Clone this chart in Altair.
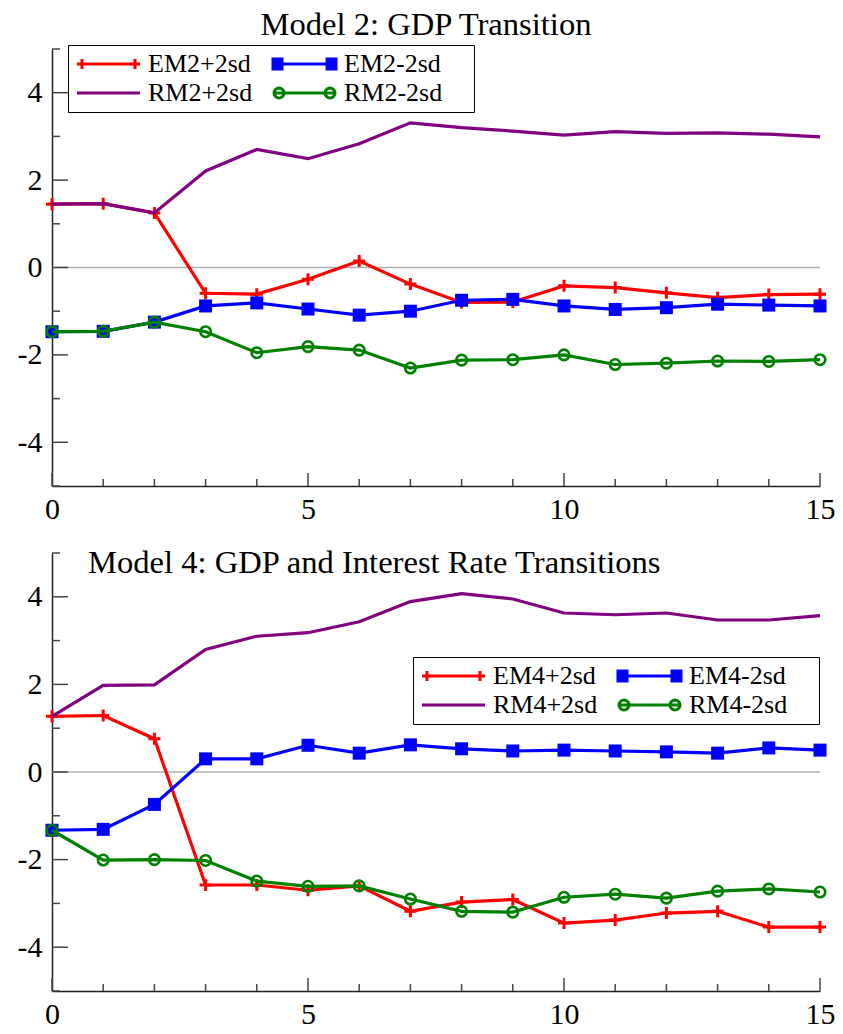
import math
import altair as alt
import pandas as pd

steps = list(range(16))

# Model 2
series2 = ["EM2+2sd", "EM2-2sd", "RM2+2sd", "RM2-2sd"]
em2_plus = [1.45, 1.46, 1.25, -0.59, -0.61, -0.27, 0.15, -0.38, -0.80, -0.79, -0.42, -0.46, -0.58, -0.69, -0.62, -0.61]
em2_minus = [-1.47, -1.46, -1.25, -0.88, -0.81, -0.95, -1.09, -1.00, -0.75, -0.73, -0.88, -0.96, -0.92, -0.84, -0.86, -0.88]
rm2_plus = [1.45, 1.46, 1.25, 2.21, 2.70, 2.49, 2.83, 3.31, 3.20, 3.12, 3.03, 3.11, 3.07, 3.08, 3.05, 2.99]
rm2_minus = [-1.47, -1.46, -1.25, -1.47, -1.95, -1.81, -1.89, -2.30, -2.12, -2.11, -2.00, -2.22, -2.19, -2.14, -2.15, -2.11]

# Model 4
series4 = ["EM4+2sd", "EM4-2sd", "RM4+2sd", "RM4-2sd"]
em4_plus = [1.27, 1.29, 0.76, -2.58, -2.58, -2.70, -2.60, -3.18, -2.97, -2.91, -3.45, -3.38, -3.22, -3.18, -3.54, -3.54]
em4_minus = [-1.33, -1.31, -0.74, 0.30, 0.30, 0.61, 0.43, 0.62, 0.53, 0.48, 0.50, 0.48, 0.46, 0.43, 0.55, 0.50]
rm4_plus = [1.27, 1.98, 1.99, 2.80, 3.10, 3.18, 3.43, 3.89, 4.07, 3.95, 3.63, 3.59, 3.63, 3.47, 3.47, 3.57]
rm4_minus = [-1.33, -2.01, -2.00, -2.02, -2.49, -2.61, -2.60, -2.90, -3.18, -3.20, -2.86, -2.79, -2.88, -2.72, -2.67, -2.74]

titles = ["Model 2: GDP Transition", "Model 4: GDP and Interest Rate Transitions"]

y_major = [-4, -2, 0, 2, 4]
y_minor = [-5, -3, -1, 1, 3, 5]
x_major = [0, 5, 10, 15]
x_minor = [1, 2, 3, 4, 6, 7, 8, 9, 11, 12, 13, 14]

# styles
colors = ["#ff0000", "#0000ff", "#800080", "#008000"]
fills = ["#ff0000", "#0000ff", "#800080", "#ffffff"]
SERIF = "Liberation Serif"
TICK = "#444444"
W = 768


def circle_path(cx, r, n=16):
    pts = []
    for i in range(n):
        a = 2 * math.pi * i / n
        pts.append(f"{cx + r * math.cos(a):.3f},{r * math.sin(a):.3f}")
    return "M" + "L".join(pts) + "Z"


# legend symbols (unit = 10 px, symbolSize 400); line spans 63 px.
# The trailing move-to in the right-column symbols only widens the legend box.
LEG_PLUS = "M-1,0H5.3M-0.5,-0.5V0.5M4.8,-0.5V0.5"
LEG_SQ = "M-1,0H5.3M-1,-0.5H-0.1V0.5H-1ZM4.4,-0.5H5.3V0.5H4.4ZM17.9,0"
LEG_LINE = "M-1,0H5.3"
LEG_CIRC = "M-1,0H5.3" + circle_path(-0.4, 0.5) + circle_path(4.7, 0.5) + "M17.9,0"
leg_shapes = [LEG_PLUS, LEG_SQ, LEG_LINE, LEG_CIRC]
PLUS = "M-1,0H1M0,-1V1"

AXIS_STYLE = dict(ticks=False, grid=False, title=None, labelFont=SERIF,
                  labelFontSize=30, labelColor="black", domainColor="#222222",
                  domainWidth=1.5, labelFlush=False, labelOverlap=False)


def panel(names, values, height, legend_x, legend_y, title_params):
    rows = []
    for name, vals in zip(names, values):
        for s, v in zip(steps, vals):
            rows.append({"x": s, "y": v, "series": name})
    df = pd.DataFrame(rows)

    xs = alt.Scale(domain=[0, 15], nice=False, zero=False)
    ys = alt.Scale(domain=[-5, 5], nice=False, zero=False)
    x_axis = alt.Axis(values=x_major, labelPadding=8, **AXIS_STYLE)
    y_axis = alt.Axis(values=y_major, labelPadding=10,
                      labelExpr="'' + datum.value", **AXIS_STYLE)

    X = alt.X("x:Q", scale=xs, axis=x_axis)
    Y = alt.Y("y:Q", scale=ys, axis=y_axis)

    zero = alt.Chart(pd.DataFrame({"x": [0], "y": [0]})).mark_rule(
        color="#b0b0b0", strokeWidth=1.5).encode(y=Y)

    ymaj = alt.Chart(pd.DataFrame({"y": y_major})).mark_rule(
        color=TICK, strokeWidth=1.5).encode(y=Y, x=alt.value(0), x2=alt.value(16))
    ymin = alt.Chart(pd.DataFrame({"y": y_minor})).mark_rule(
        color=TICK, strokeWidth=1.5).encode(y=Y, x=alt.value(0), x2=alt.value(8))
    xmaj = alt.Chart(pd.DataFrame({"x": x_major})).mark_rule(
        color=TICK, strokeWidth=1.5).encode(x=X, y=alt.value(height), y2=alt.value(height - 13))
    xmin = alt.Chart(pd.DataFrame({"x": x_minor})).mark_rule(
        color=TICK, strokeWidth=1.5).encode(x=X, y=alt.value(height), y2=alt.value(height - 7))

    layers = [zero, ymaj, ymin, xmaj, xmin]
    for i, name in enumerate(names):
        sub = df[df["series"] == name]
        base = alt.Chart(sub)
        line = base.mark_line(color=colors[i], strokeWidth=3.2).encode(x=X, y=Y)
        layers.append(line)
        if i == 0:
            layers.append(base.mark_point(shape=PLUS, size=144, filled=False,
                                          color=colors[i], strokeWidth=3, opacity=1)
                          .encode(x=X, y=Y))
        elif i == 1:
            layers.append(base.mark_point(shape="square", size=169, filled=True,
                                          color=colors[i], opacity=1)
                          .encode(x=X, y=Y))
        elif i == 3:
            layers.append(base.mark_point(shape="circle", size=110, filled=False,
                                          color=colors[i], strokeWidth=2.6, opacity=1)
                          .encode(x=X, y=Y))

    legend = alt.Legend(
        title=None, orient="none", legendX=legend_x, legendY=legend_y,
        direction="horizontal",
        columns=2, columnPadding=14, rowPadding=3, padding=6,
        labelFont=SERIF, labelFontSize=26, labelColor="black", labelOffset=48,
        labelLimit=400,
        strokeColor="black", fillColor="white",
        symbolSize=400, symbolStrokeWidth=3, symbolOpacity=1,
    )
    leg_layer = alt.Chart(df).mark_point(size=0.01, opacity=0, filled=False).encode(
        x=X, y=Y,
        stroke=alt.Stroke("series:N", scale=alt.Scale(domain=names, range=colors), legend=legend),
        fill=alt.Fill("series:N", scale=alt.Scale(domain=names, range=fills), legend=legend),
        shape=alt.Shape("series:N", scale=alt.Scale(domain=names, range=leg_shapes), legend=legend),
    )
    layers.append(leg_layer)

    return alt.layer(*layers).properties(width=W, height=height, title=title_params)


top = panel(series2, [em2_plus, em2_minus, rm2_plus, rm2_minus], 437, 16, -4,
            alt.TitleParams(titles[0], font=SERIF, fontSize=32.6, fontWeight="normal",
                            color="black", anchor="middle", dx=-10, offset=-23,
                            baseline="alphabetic", frame="group"))
bottom = panel(series4, [em4_plus, em4_minus, rm4_plus, rm4_minus], 438, 361, 104,
               alt.TitleParams(titles[1], font=SERIF, fontSize=32.6, fontWeight="normal",
                               color="black", anchor="start", dx=36, offset=-53,
                               baseline="alphabetic", frame="group"))

chart = alt.vconcat(top, bottom, spacing=22).resolve_scale(
    stroke="independent", fill="independent", shape="independent"
).resolve_legend(
    stroke="independent", fill="independent", shape="independent"
).properties(
    padding={"left": 9, "top": 0, "right": 0, "bottom": 0},
    background="white",
).configure_view(strokeWidth=0, stroke="transparent").configure_axis(
    labelFont=SERIF, labelFontSize=30, labelColor="black"
)

chart.save("out.html", embed_options={"renderer": "svg", "actions": False})
